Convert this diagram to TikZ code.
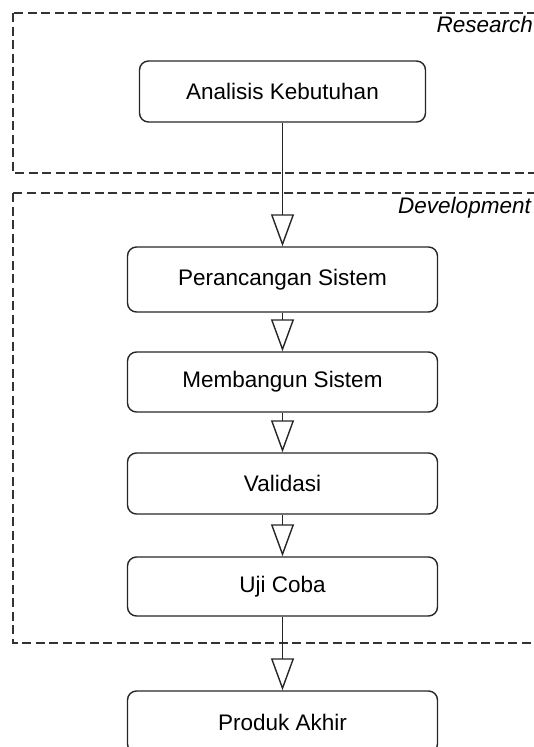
\documentclass[tikz,border=0pt]{standalone}
\usepackage{fontspec}
\setmainfont{Liberation Sans}
\usetikzlibrary{arrows.meta}
\tikzset{
  stepbox/.style={draw=black!85, line width=1.4pt, rounded corners=9pt, minimum width=310pt,
    inner sep=0pt, text=black, font=\fontsize{22.5}{26}\selectfont},
  phase/.style={draw=black!80, line width=1.5pt, dash pattern=on 9pt off 4.5pt},
  phaselabel/.style={anchor=base east, inner sep=0pt, text=black, font=\fontsize{22.5}{26}\selectfont\itshape},
  flow/.style={draw=black!85, line width=1.4pt, -{Triangle[open, width=23pt, length=32pt, line width=1.4pt]}},
}
\begin{document}
\begin{tikzpicture}[x=1pt, y=-1pt]
\useasboundingbox (0,0) rectangle (534,747);
\begin{scope}
\clip (0,0) rectangle (534,747);
% phase frames
\draw[phase] (13,13) rectangle (560,173);
\draw[phase] (13,193) rectangle (560,643);
\node[phaselabel] (lr) at (533,32) {Research};
\node[phaselabel] (ld) at (531,213) {Development};
% steps
\node[stepbox, minimum width=286pt, minimum height=61pt] (a) at (282.5,91.5) {Analisis Kebutuhan};
\node[stepbox, minimum height=65pt] (b) at (282.5,279.5) {Perancangan Sistem};
\node[stepbox, minimum height=60pt] (c) at (282.5,382) {Membangun Sistem};
\node[stepbox, minimum height=61pt] (d) at (282.5,483.5) {Validasi};
\node[stepbox, minimum height=59pt] (e) at (282.5,586.5) {Uji Coba};
\node[stepbox, minimum height=62pt] (f) at (282.5,722) {Produk Akhir};
% connectors
\draw[flow] (a.south) -- (b.north);
\draw[flow] (b.south) -- (c.north);
\draw[flow] (c.south) -- (d.north);
\draw[flow] (d.south) -- (e.north);
\draw[flow] (e.south) -- (f.north);
\end{scope}
\end{tikzpicture}
\end{document}
